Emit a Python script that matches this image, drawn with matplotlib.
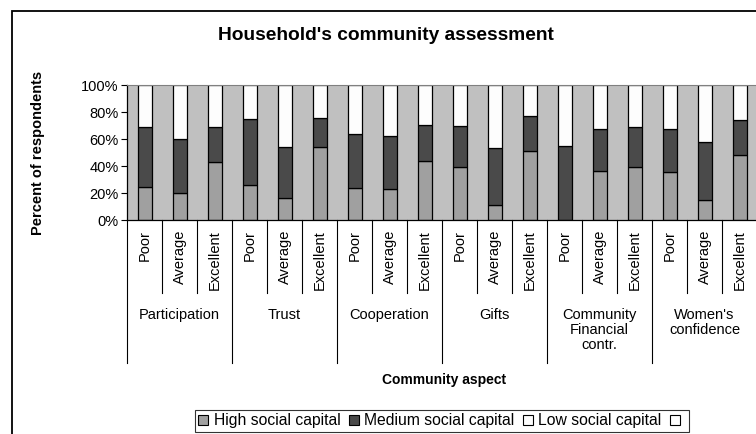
import matplotlib
matplotlib.use("Agg")
import matplotlib.pyplot as plt
import matplotlib.patches as mpatches
import numpy as np

plt.rcParams['font.family'] = ['Liberation Sans', 'DejaVu Sans']

aspects = ["Participation", "Trust", "Cooperation", "Gifts",
           "Community\nFinancial\ncontr.", "Women's\nconfidence"]
levels = ["Poor", "Average", "Excellent"]

# percent of respondents, order: aspect x level
high = [24.4, 20.0, 43.2, 26.4, 16.8, 54.6, 23.7, 23.0, 44.2,
        39.3, 11.6, 51.1, 0.0, 36.3, 39.3, 35.6, 15.1, 48.4]
medium_top = [68.9, 60.5, 68.9, 75.0, 54.6, 76.0, 64.0, 62.5, 70.9,
              69.9, 53.6, 77.5, 55.3, 67.4, 68.9, 67.4, 58.0, 74.3]
medium = [m - h for m, h in zip(medium_top, high)]
low = [100 - m for m in medium_top]

series_names = ["High social capital", "Medium social capital", "Low social capital"]
colors = ["#a0a0a0", "#4a4a4a", "#fdfdfd"]

W, H = 756, 434
fig = plt.figure(figsize=(W / 100, H / 100), dpi=100)
ax = fig.add_axes([127 / W, (H - 220.3) / H, 630 / W, 135 / H])
ax.set_facecolor("#c0c0c0")

x = np.arange(len(high))
bottom = np.zeros(len(high))
for vals, c in zip([high, medium, low], colors):
    ax.bar(x, vals, width=0.4, bottom=bottom, color=c,
           edgecolor="black", linewidth=0.9, zorder=2)
    bottom += np.array(vals)

ax.set_xlim(-0.5, len(high) - 0.5)
ax.set_ylim(0, 100)
ax.set_yticks(np.arange(0, 101, 20))
ax.set_yticklabels([f"{v}%" for v in range(0, 101, 20)], fontsize=10.5)
ax.tick_params(axis='y', length=4, width=0.8, pad=2)
ax.set_xticks([])
ax.spines['top'].set_color("#808080")
ax.spines['right'].set_visible(False)
ax.spines['left'].set_linewidth(0.9)
ax.spines['bottom'].set_linewidth(0.9)

# multi-level category axis
tr = ax.get_xaxis_transform()
n_lv = len(levels)
for i in range(len(high) + 1):
    depth = -1.06 if i % n_lv == 0 else -0.54
    ax.plot([i - 0.5, i - 0.5], [0, depth], color="black", lw=0.8,
            transform=tr, clip_on=False)
for i in range(len(high)):
    ax.text(i, -0.07, levels[i % n_lv], rotation=90, ha="center", va="top",
            fontsize=10.5, transform=tr)
for g, name in enumerate(aspects):
    ax.text(g * n_lv + 1, -0.65, name, ha="center", va="top",
            fontsize=10.5, transform=tr, linespacing=1.1)

fig.text(444 / W, (H - 380) / H, "Community aspect", ha="center", va="center",
         fontsize=10, fontweight="bold")
fig.text(38 / W, (H - 153) / H, "Percent of respondents", rotation=90,
         ha="center", va="center", fontsize=10.5, fontweight="bold")
fig.text(386 / W, (H - 35) / H, "Household's community assessment",
         ha="center", va="center", fontsize=13.8, fontweight="bold")

handles = [mpatches.Patch(facecolor=c, edgecolor="black", linewidth=0.8) for c in colors]
handles.append(mpatches.Patch(facecolor="white", edgecolor="black", linewidth=0.8))
labels = series_names + [""]
leg = fig.legend(handles, labels, loc="center", bbox_to_anchor=(442 / W, (H - 421) / H),
                 ncol=4, fontsize=11.3, frameon=True, fancybox=False,
                 handlelength=0.62, handleheight=0.62, handletextpad=0.35,
                 columnspacing=0.55, borderpad=0.25, borderaxespad=0)
leg.get_frame().set_edgecolor("black")
leg.get_frame().set_linewidth(0.8)

fig.patches.append(mpatches.Rectangle((12 / W, -0.1), 1.2, (H - 11) / H + 0.1,
                                      fill=False, edgecolor="black", lw=1.3,
                                      transform=fig.transFigure))

fig.savefig("out.png", dpi=100)
